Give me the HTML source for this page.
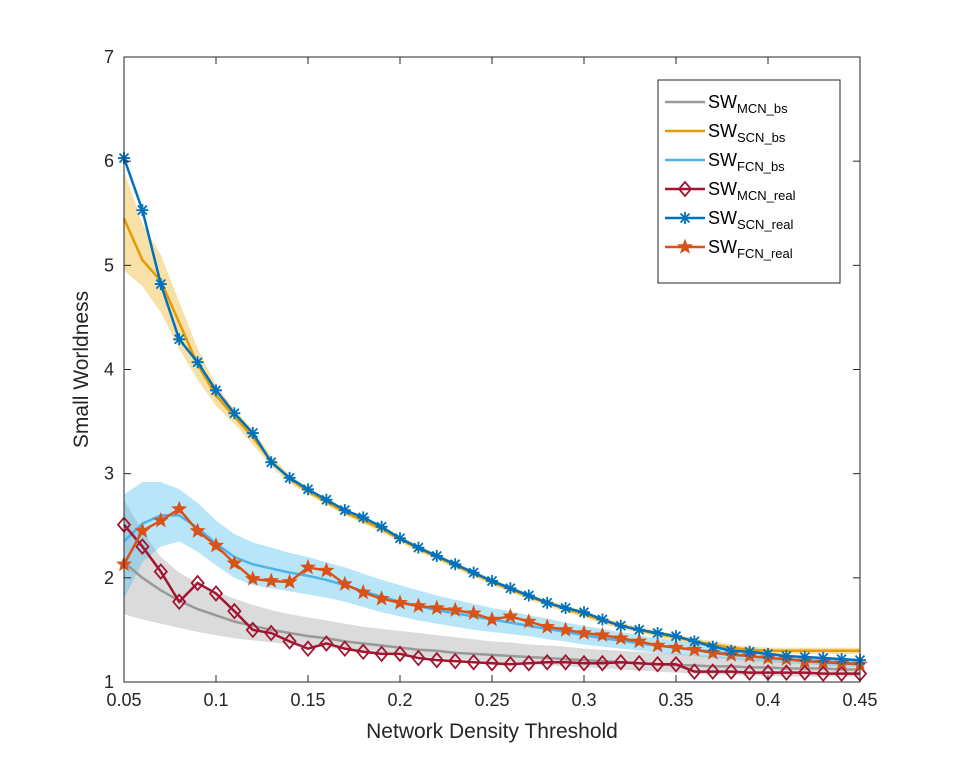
<!DOCTYPE html>
<html><head><meta charset="utf-8"><style>
body{margin:0;background:#fff;}
svg{font-family:"Liberation Sans",sans-serif;}
</style></head><body>
<svg id="chart" width="953" height="766" xmlns="http://www.w3.org/2000/svg">
<rect x="0" y="0" width="953" height="766" fill="#fff"/>
<g id="bands"></g><g id="lines"></g><g id="axes"></g><g id="legend"></g>
</svg>
<script>
const xs=[];for(let i=0;i<=40;i++)xs.push(+(0.05+i*0.01).toFixed(2));
const mcnBs=[2.15,2.0,1.88,1.78,1.7,1.64,1.58,1.54,1.5,1.47,1.44,1.42,1.39,1.37,1.35,1.33,1.31,1.30,1.28,1.27,1.26,1.25,1.24,1.23,1.22,1.21,1.20,1.19,1.18,1.17,1.16,1.16,1.15,1.15,1.14,1.14,1.13,1.13,1.13,1.12,1.12];
const mcnHi=[2.75,2.45,2.2,2.05,1.95,1.87,1.8,1.74,1.69,1.65,1.62,1.59,1.56,1.53,1.51,1.49,1.47,1.45,1.43,1.41,1.39,1.38,1.36,1.35,1.34,1.32,1.31,1.30,1.29,1.28,1.27,1.26,1.25,1.24,1.23,1.22,1.21,1.21,1.20,1.20,1.19];
const mcnLo=[1.65,1.6,1.56,1.52,1.48,1.45,1.42,1.4,1.38,1.36,1.34,1.33,1.31,1.29,1.28,1.26,1.25,1.23,1.22,1.21,1.19,1.18,1.17,1.16,1.15,1.14,1.13,1.12,1.11,1.10,1.09,1.08,1.07,1.07,1.06,1.06,1.05,1.05,1.05,1.05,1.05];
const scnBs=[5.45,5.05,4.85,4.45,4.05,3.75,3.55,3.35,3.12,2.95,2.83,2.73,2.63,2.55,2.47,2.37,2.28,2.20,2.12,2.04,1.96,1.89,1.82,1.76,1.70,1.65,1.59,1.54,1.50,1.46,1.43,1.39,1.36,1.33,1.31,1.30,1.30,1.30,1.30,1.30,1.30];
const scnHi=[5.9,5.4,5.1,4.65,4.2,3.85,3.62,3.42,3.17,2.99,2.86,2.76,2.66,2.58,2.5,2.4,2.31,2.23,2.15,2.07,1.99,1.92,1.85,1.79,1.73,1.68,1.62,1.57,1.53,1.49,1.46,1.42,1.39,1.36,1.34,1.33,1.33,1.33,1.33,1.33,1.33];
const scnLo=[4.95,4.8,4.55,4.2,3.9,3.65,3.48,3.28,3.07,2.91,2.8,2.7,2.6,2.52,2.44,2.34,2.25,2.17,2.09,2.01,1.93,1.86,1.79,1.73,1.67,1.62,1.56,1.51,1.47,1.43,1.40,1.36,1.33,1.30,1.28,1.27,1.27,1.27,1.27,1.27,1.27];
const fcnBs=[2.35,2.52,2.6,2.6,2.48,2.33,2.2,2.13,2.09,2.05,2.02,1.98,1.93,1.87,1.82,1.77,1.73,1.69,1.66,1.63,1.6,1.57,1.54,1.51,1.48,1.45,1.42,1.40,1.37,1.35,1.33,1.31,1.29,1.27,1.25,1.23,1.22,1.21,1.20,1.19,1.18];
const fcnHi=[2.8,2.92,2.92,2.85,2.72,2.55,2.42,2.34,2.29,2.24,2.2,2.15,2.1,2.04,1.98,1.93,1.88,1.83,1.79,1.75,1.71,1.68,1.64,1.61,1.57,1.54,1.51,1.48,1.45,1.42,1.40,1.37,1.35,1.32,1.30,1.28,1.26,1.25,1.24,1.23,1.22];
const fcnLo=[1.8,2.15,2.3,2.35,2.25,2.12,2.0,1.93,1.9,1.87,1.84,1.81,1.77,1.72,1.67,1.63,1.59,1.56,1.53,1.5,1.48,1.46,1.44,1.41,1.39,1.36,1.34,1.32,1.30,1.28,1.26,1.25,1.23,1.22,1.20,1.19,1.18,1.17,1.16,1.15,1.15];
const mcnReal=[2.51,2.30,2.06,1.77,1.95,1.85,1.68,1.50,1.47,1.39,1.32,1.37,1.32,1.29,1.27,1.27,1.23,1.21,1.20,1.19,1.18,1.17,1.18,1.19,1.19,1.18,1.18,1.19,1.18,1.17,1.17,1.10,1.10,1.10,1.09,1.09,1.09,1.09,1.08,1.08,1.08];
const scnReal=[6.03,5.53,4.82,4.29,4.07,3.80,3.58,3.39,3.11,2.96,2.85,2.75,2.65,2.58,2.49,2.38,2.29,2.21,2.13,2.05,1.97,1.90,1.83,1.76,1.71,1.67,1.60,1.54,1.50,1.47,1.44,1.39,1.34,1.30,1.29,1.27,1.25,1.24,1.23,1.22,1.21];
const fcnReal=[2.13,2.45,2.55,2.66,2.45,2.31,2.14,1.99,1.97,1.96,2.10,2.07,1.94,1.86,1.80,1.76,1.73,1.71,1.69,1.66,1.60,1.63,1.58,1.53,1.50,1.47,1.45,1.42,1.39,1.35,1.33,1.31,1.28,1.26,1.25,1.23,1.22,1.20,1.19,1.18,1.17];
const xTicks=[0.05,0.1,0.15,0.2,0.25,0.3,0.35,0.4,0.45];
const xTickLabels=["0.05","0.1","0.15","0.2","0.25","0.3","0.35","0.4","0.45"];
const yTicks=[1,2,3,4,5,6,7];

const L=124,R=860,T=57,B=682;
const X=v=>L+(v-0.05)/0.4*(R-L);
const Y=v=>B-(v-1)/6*(B-T);
const NS="http://www.w3.org/2000/svg";
function mk(tag,attrs,parent){const e=document.createElementNS(NS,tag);for(const k in attrs)e.setAttribute(k,attrs[k]);parent.appendChild(e);return e;}
const bands=document.getElementById('bands'),lines=document.getElementById('lines'),axes=document.getElementById('axes'),legend=document.getElementById('legend');
function band(hi,lo,col,name){let d='M'+xs.map((x,i)=>X(x)+','+Y(hi[i])).join('L');for(let i=xs.length-1;i>=0;i--)d+='L'+X(xs[i])+','+Y(lo[i]);d+='Z';
const p=mk('path',{d:d,fill:col,'fill-opacity':0.4},bands);

}
band(mcnHi,mcnLo,'#a6a6a6','mcn-bs-band');band(scnHi,scnLo,'#edb120','scn-bs-band');band(fcnHi,fcnLo,'#4dbeee','fcn-bs-band');
function line(vals,col,name){const p=mk('polyline',{points:xs.map((x,i)=>X(x)+','+Y(vals[i])).join(' '),fill:'none',stroke:col,'stroke-width':2.5},lines);

}
function diamond(cx,cy,col,g){mk('path',{d:`M${cx},${cy-7}L${cx+6},${cy}L${cx},${cy+7}L${cx-6},${cy}Z`,fill:'none',stroke:col,'stroke-width':1.8},g);}
function asterisk(cx,cy,col,g){const r=6;mk('path',{d:`M${cx-r},${cy}H${cx+r}M${cx},${cy-r}V${cy+r}M${cx-4.5},${cy-4.5}L${cx+4.5},${cy+4.5}M${cx-4.5},${cy+4.5}L${cx+4.5},${cy-4.5}`,stroke:col,'stroke-width':1.8},g);}
function star(cx,cy,col,g){let d='';for(let k=0;k<10;k++){const r=k%2?3:7;const a=-Math.PI/2+k*Math.PI/5;d+=(k?'L':'M')+(cx+r*Math.cos(a))+','+(cy+r*Math.sin(a));}mk('path',{d:d+'Z',fill:col,stroke:col,'stroke-width':1},g);}
line(mcnBs,'#999999','mcn-bs-line');line(scnBs,'#e59c00','scn-bs-line');line(fcnBs,'#4db4ea','fcn-bs-line');
function real(vals,col,mark,name){line(vals,col,name+'-line');const g=mk('g',{},lines);


xs.forEach((x,i)=>mark(X(x),Y(vals[i]),col,g));}
real(mcnReal,'#a2142f',diamond,'mcn-real');real(fcnReal,'#d95319',star,'fcn-real');real(scnReal,'#0072bd',asterisk,'scn-real');
// axes
const box=mk('rect',{x:L,y:T,width:R-L,height:B-T,fill:'none',stroke:'#262626','stroke-width':1},axes);

xTicks.forEach((t,i)=>{mk('line',{x1:X(t),x2:X(t),y1:B,y2:B-7,stroke:'#262626'},axes);mk('line',{x1:X(t),x2:X(t),y1:T,y2:T+7,stroke:'#262626'},axes);
const tx=mk('text',{x:X(t),y:B+24,'text-anchor':'middle','font-size':18,fill:'#262626'},axes);tx.textContent=xTickLabels[i];
});
yTicks.forEach(t=>{mk('line',{x1:L,x2:L+7,y1:Y(t),y2:Y(t),stroke:'#262626'},axes);mk('line',{x1:R,x2:R-7,y1:Y(t),y2:Y(t),stroke:'#262626'},axes);
const tx=mk('text',{x:L-10,y:Y(t)+6,'text-anchor':'end','font-size':18,fill:'#262626'},axes);tx.textContent=t;
});
const xt=mk('text',{x:(L+R)/2,y:738,'text-anchor':'middle','font-size':21,fill:'#262626'},axes);xt.textContent='Network Density Threshold';

const yt=mk('text',{x:0,y:0,'text-anchor':'middle','font-size':21,fill:'#262626',transform:`translate(88,${(T+B)/2}) rotate(-90)`},axes);yt.textContent='Small Worldness';

// legend
const lb=mk('rect',{x:658,y:80,width:182,height:203,fill:'#fff',stroke:'#262626'},legend);

const entries=[['MCN_bs','#999999',null],['SCN_bs','#e59c00',null],['FCN_bs','#4db4ea',null],['MCN_real','#a2142f',diamond],['SCN_real','#0072bd',asterisk],['FCN_real','#d95319',star]];
entries.forEach((e,i)=>{const y=102+i*29;const g=mk('g',{},legend);


mk('line',{x1:665,x2:705,y1:y,y2:y,stroke:e[1],'stroke-width':2.5},g);if(e[2])e[2](685,y,e[1],g);
const t=mk('text',{x:708,y:y+6,'font-size':18,fill:'#000'},g);t.innerHTML='SW<tspan font-size="13" dy="5">'+e[0]+'</tspan>';});
</script>
</body></html>
